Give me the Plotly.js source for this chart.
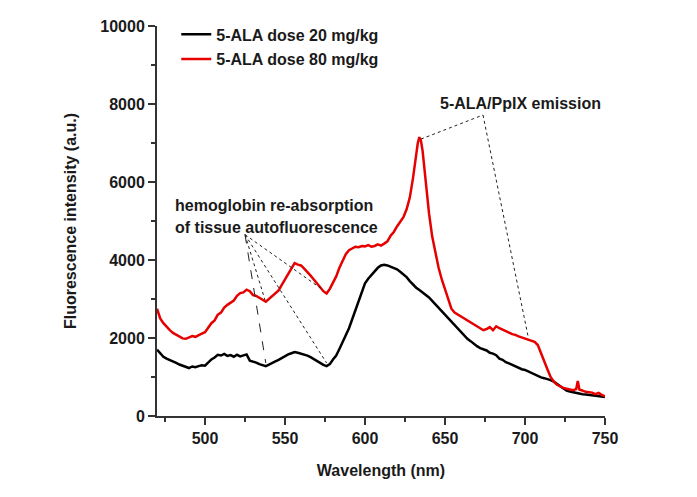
<!DOCTYPE html>
<html>
<head>
<meta charset="utf-8">
<script src="https://cdn.plot.ly/plotly-3.0.1.min.js"></script>
<style>html,body{margin:0;padding:0;background:#fff;}#chart{width:697px;height:497px;}</style>
</head>
<body>
<div id="chart"></div>
<script>
// Wavelength (nm) and fluorescence intensity (a.u.), 5-ALA dose 20 mg/kg
const wlLow = [470,472,474,476,478,480,482,484,486,488,490,492,494,496,498,500,502,504,506,508,510,512,514,516,518,520,522,524,526,528,530,532,534,536,538,540,542,544,546,548,550,552,554,556,558,560,562,564,566,568,570,572,574,576,578,580,582,584,586,588,590,592,594,596,598,600,602,604,606,608,610,612,614,616,618,620,622,624,626,628,630,632,634,636,638,640,642,644,646,648,650,652,654,656,658,660,662,664,666,668,670,672,674,676,678,680,682,684,686,688,690,692,694,696,698,700,702,704,706,708,710,712,714,716,718,720,722,724,726,728,730,732,734,736,738,740,742,744,746,748,750];
const intLow = [1700,1600,1520,1470,1440,1390,1360,1320,1290,1250,1230,1270,1250,1280,1300,1290,1380,1450,1500,1570,1550,1590,1540,1560,1520,1570,1530,1550,1580,1420,1400,1370,1330,1300,1280,1320,1350,1400,1440,1490,1530,1580,1610,1640,1620,1600,1570,1550,1510,1460,1400,1350,1310,1280,1330,1450,1550,1720,1900,2080,2250,2480,2720,2950,3200,3400,3520,3620,3720,3800,3860,3880,3860,3830,3790,3760,3700,3640,3560,3460,3360,3290,3230,3170,3120,3040,2950,2860,2770,2680,2590,2500,2420,2320,2230,2140,2060,1980,1920,1850,1790,1740,1710,1680,1620,1600,1560,1470,1440,1380,1350,1310,1270,1240,1200,1180,1140,1090,1050,1010,990,970,950,920,880,820,760,690,650,630,610,590,570,560,550,540,530,520,510,500,490];

// 5-ALA dose 80 mg/kg
const wlHigh = [470,471,472,474,476,478,480,482,484,486,488,490,492,494,496,498,500,502,504,506,508,510,512,514,516,518,520,522,524,526,528,530,532,534,536,538,540,542,544,546,548,550,552,554,556,558,560,562,564,566,568,570,572,574,576,578,580,582,584,586,588,590,592,594,596,598,600,602,604,606,608,610,612,614,616,618,620,622,624,626,628,630,632,633,634,635,636,637,638,640,642,644,646,648,650,652,654,656,658,660,662,664,666,668,670,672,674,676,678,680,682,684,686,688,690,692,694,696,698,700,702,704,706,708,710,712,714,716,718,720,722,724,726,728,730,732,733,734,736,738,740,742,744,746,748,750];
const intHigh = [2750,2600,2500,2380,2280,2200,2130,2080,2040,1990,1980,2020,2050,2030,2080,2110,2150,2260,2380,2450,2600,2650,2780,2850,2900,2960,3080,3150,3170,3240,3200,3100,3080,3020,2980,2930,3000,3080,3150,3220,3360,3500,3620,3780,3920,3880,3860,3780,3700,3600,3500,3400,3300,3200,3140,3260,3420,3580,3800,3980,4150,4250,4300,4340,4330,4360,4350,4380,4340,4360,4400,4370,4420,4480,4620,4720,4860,4980,5100,5300,5600,6100,6800,7000,7150,7050,6800,6400,5900,5200,4600,4200,3800,3500,3250,2950,2750,2650,2600,2560,2500,2450,2400,2370,2320,2250,2200,2230,2280,2200,2300,2250,2220,2180,2140,2100,2080,2040,2010,1980,1960,1930,1900,1820,1600,1420,1200,1000,880,800,750,720,700,680,660,690,900,680,640,620,610,600,560,590,540,500];

const seriesNames = ['5-ALA dose 20 mg/kg', '5-ALA dose 80 mg/kg'];
const xTicks = [500,550,600,650,700,750];
const yTicks = [0,2000,4000,6000,8000,10000];
const yTickText = ['0','2000','4000','6000','8000','10000'];

const FONT = 'Liberation Sans, Arial, sans-serif';
const TXT = '#1a1a1a';

const traces = [
  {x: wlLow, y: intLow, name: seriesNames[0], type: 'scatter', mode: 'lines',
   line: {color: '#000000', width: 2.5}, legendgroup: 'a'},
  {x: wlHigh, y: intHigh, name: seriesNames[1], type: 'scatter', mode: 'lines',
   line: {color: '#e60000', width: 2.5}, legendgroup: 'b'}
];

const dot = {color: '#222', width: 1, dash: 'dot'};
const shapes = [
  // hemoglobin leader lines
  {type:'line', xref:'x', yref:'y', x0:525, y0:4650, x1:537.5, y1:2974, line:dot},
  {type:'line', xref:'x', yref:'y', x0:525, y0:4650, x1:538, y1:1359, line:{color:'#222', width:1, dash:'dash'}},
  {type:'line', xref:'x', yref:'y', x0:525, y0:4650, x1:573, y1:3256, line:dot},
  {type:'line', xref:'x', yref:'y', x0:525, y0:4650, x1:576, y1:1359, line:dot},
  // PpIX emission leader lines
  {type:'line', xref:'x', yref:'y', x0:635, y0:7100, x1:673.75, y1:7718, line:dot},
  {type:'line', xref:'x', yref:'y', x0:673.75, y0:7718, x1:702, y1:2026, line:dot}
];

const annFont = {family: FONT, size: 16, color: TXT, weight: 'bold'};
const annotations = [
  {xref:'paper', yref:'paper', x: (173-157)/448, y: (416-205)/390, xanchor:'left', yanchor:'middle',
   text:'hemoglobin re-absorption', showarrow:false, font: annFont},
  {xref:'paper', yref:'paper', x: (173-157)/448, y: (416-228)/390, xanchor:'left', yanchor:'middle',
   text:'of tissue autofluorescence', showarrow:false, font: annFont},
  {xref:'paper', yref:'paper', x: (438-157)/448, y: (416-104)/390, xanchor:'left', yanchor:'middle',
   text:'5-ALA/PpIX emission', showarrow:false, font: annFont}
];

const layout = {
  width: 697, height: 497,
  margin: {l: 157, r: 92, t: 26, b: 81},
  paper_bgcolor: '#fff', plot_bgcolor: '#fff',
  showlegend: true,
  legend: {x: 0.043, y: 1.022, xanchor: 'left', yanchor: 'top', bgcolor: 'rgba(0,0,0,0)',
           font: {family: FONT, size: 16, color: TXT, weight: 'bold'}, tracegroupgap: 1},
  xaxis: {
    range: [470, 750], tickvals: xTicks, ticks: 'outside', ticklen: 7, tickwidth: 1.5, tickcolor: '#333',
    minor: {ticks: 'outside', ticklen: 4, tickwidth: 1.5, tickcolor: '#333', dtick: 25, tick0: 475, showgrid: false},
    showline: true, linecolor: '#333', linewidth: 2, showgrid: false, zeroline: false,
    tickfont: {family: FONT, size: 16, color: TXT, weight: 'bold'},
    title: {text: 'Wavelength (nm)', font: {family: FONT, size: 16, color: TXT, weight: 'bold'}, standoff: 19}
  },
  yaxis: {
    range: [0, 10000], tickvals: yTicks, ticktext: yTickText, ticks: 'outside', ticklen: 7, tickwidth: 1.5, tickcolor: '#333',
    minor: {ticks: 'outside', ticklen: 4, tickwidth: 1.5, tickcolor: '#333', dtick: 1000, showgrid: false},
    showline: true, linecolor: '#333', linewidth: 2, showgrid: false, zeroline: false,
    tickfont: {family: FONT, size: 16, color: TXT, weight: 'bold'},
    title: {text: 'Fluorescence intensity (a.u.)', font: {family: FONT, size: 16, color: TXT, weight: 'bold'}, standoff: 20}
  },
  shapes: shapes,
  annotations: annotations
};

Plotly.newPlot('chart', traces, layout, {displayModeBar: false, staticPlot: true});
</script>
</body>
</html>
